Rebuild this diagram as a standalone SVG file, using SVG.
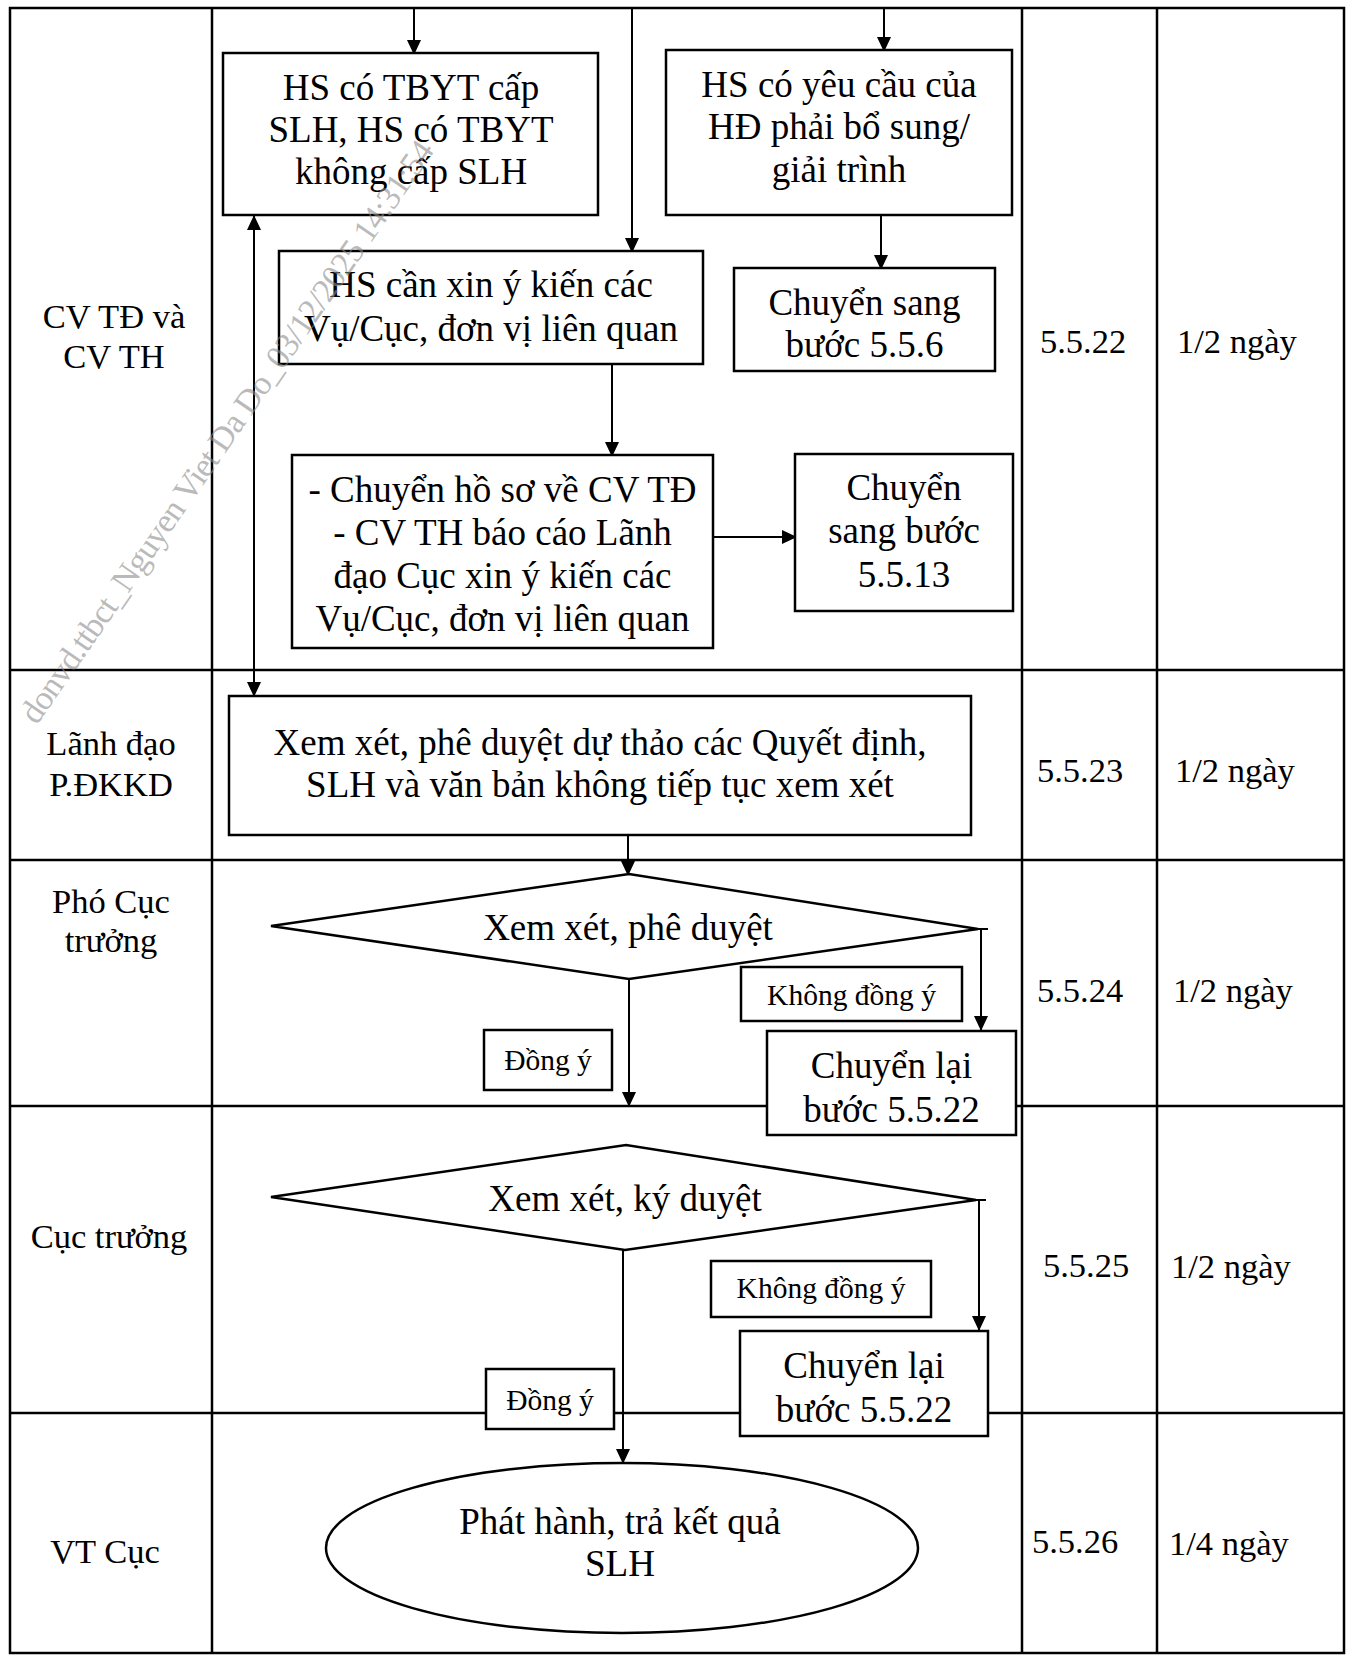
<svg xmlns="http://www.w3.org/2000/svg" width="1357" height="1660" viewBox="0 0 1357 1660">
<defs>
<marker id="ah" viewBox="0 0 15 14" refX="15" refY="7" markerWidth="15" markerHeight="14" orient="auto-start-reverse" markerUnits="userSpaceOnUse"><path d="M0,0 L15,7 L0,14 z" fill="#000"/></marker>
<style>
text{font-family:"Liberation Serif","Times New Roman",serif;fill:#000}
.f{font-size:37px;text-anchor:middle}
.l{font-size:29.5px;text-anchor:middle}
.t{font-size:34.5px}
.c{text-anchor:middle}
.box{fill:#fff;stroke:#000;stroke-width:2.5}
.grid{fill:none;stroke:#000;stroke-width:2.5}
.con{fill:none;stroke:#000;stroke-width:2}
.arr{marker-end:url(#ah)}
.wm{font-size:34px;fill:#8c8c8c;fill-opacity:0.6;text-anchor:middle}
</style>
</defs>
<rect width="1357" height="1660" fill="#fff"/>
<g id="table" class="grid">
<rect x="10" y="8" width="1334" height="1645"/>
<line x1="212" y1="8" x2="212" y2="1653"/>
<line x1="1022" y1="8" x2="1022" y2="1653"/>
<line x1="1157" y1="8" x2="1157" y2="1653"/>
<line x1="10" y1="670" x2="1344" y2="670"/>
<line x1="10" y1="860" x2="1344" y2="860"/>
<line x1="10" y1="1106" x2="1344" y2="1106"/>
<line x1="10" y1="1413" x2="1344" y2="1413"/>
</g>
<g id="lanes" class="t">
<text class="c" x="114" y="328">CV TĐ và</text>
<text class="c" x="114" y="368">CV TH</text>
<text class="c" x="111" y="755">Lãnh đạo</text>
<text class="c" x="111" y="796">P.ĐKKD</text>
<text class="c" x="111" y="913">Phó Cục</text>
<text class="c" x="111" y="952">trưởng</text>
<text class="c" x="109" y="1248">Cục trưởng</text>
<text class="c" x="105" y="1563">VT Cục</text>
</g>
<g id="steps" class="t">
<text class="c" x="1083" y="353">5.5.22</text>
<text class="c" x="1080" y="782">5.5.23</text>
<text class="c" x="1080" y="1002">5.5.24</text>
<text class="c" x="1086" y="1277">5.5.25</text>
<text class="c" x="1075" y="1553">5.5.26</text>
<text x="1177" y="353">1/2 ngày</text>
<text x="1175" y="782">1/2 ngày</text>
<text x="1173" y="1002">1/2 ngày</text>
<text x="1171" y="1278">1/2 ngày</text>
<text x="1169" y="1555">1/4 ngày</text>
</g>
<g id="connectors">
<path class="con arr" d="M414,8 V55"/>
<path class="con arr" d="M884,8 V52"/>
<path class="con arr" d="M632,8 V253"/>
<path class="con arr" d="M881,215 V270"/>
<path class="con arr" d="M612,364 V457"/>
<path class="con arr" d="M713,537 H797"/>
<path class="con arr" d="M254,215 V697" marker-start="url(#ah)"/>
<path class="con arr" d="M628,835 V876"/>
<path class="con" d="M978,929 H988"/>
<path class="con arr" d="M981,929 V1031"/>
<path class="con arr" d="M629,979 V1107"/>
<path class="con" d="M976,1200 H986"/>
<path class="con arr" d="M979,1200 V1331"/>
<path class="con arr" d="M623,1250 V1464"/>
</g>
<g id="n1"><rect class="box" x="223" y="53" width="375" height="162"/>
<text class="f" x="411" y="100">HS có TBYT cấp</text>
<text class="f" x="411" y="142">SLH, HS có TBYT</text>
<text class="f" x="411" y="184">không cấp SLH</text></g>
<g id="n2"><rect class="box" x="666" y="50" width="346" height="165"/>
<text class="f" x="839" y="97">HS có yêu cầu của</text>
<text class="f" x="839" y="139">HĐ phải bổ sung/</text>
<text class="f" x="839" y="182">giải trình</text></g>
<g id="n3"><rect class="box" x="279" y="251" width="424" height="113"/>
<text class="f" x="491" y="297">HS cần xin ý kiến các</text>
<text class="f" x="491" y="341">Vụ/Cục, đơn vị liên quan</text></g>
<g id="n4"><rect class="box" x="734" y="268" width="261" height="103"/>
<text class="f" x="864.5" y="315">Chuyển sang</text>
<text class="f" x="864.5" y="357">bước 5.5.6</text></g>
<g id="n5"><rect class="box" x="292" y="455" width="421" height="193"/>
<text class="f" x="502.5" y="502">- Chuyển hồ sơ về CV TĐ</text>
<text class="f" x="502.5" y="545">- CV TH báo cáo Lãnh</text>
<text class="f" x="502.5" y="588">đạo Cục xin ý kiến các</text>
<text class="f" x="502.5" y="631">Vụ/Cục, đơn vị liên quan</text></g>
<g id="n6"><rect class="box" x="795" y="454" width="218" height="157"/>
<text class="f" x="904" y="500">Chuyển</text>
<text class="f" x="904" y="543">sang bước</text>
<text class="f" x="904" y="587">5.5.13</text></g>
<g id="n7"><rect class="box" x="229" y="696" width="742" height="139"/>
<text class="f" x="600" y="755">Xem xét, phê duyệt dự thảo các Quyết định,</text>
<text class="f" x="600" y="797">SLH và văn bản không tiếp tục xem xét</text></g>
<g id="n8"><polygon class="box" points="271,926 629,874 978,929 629,979"/>
<text class="f" x="628" y="940">Xem xét, phê duyệt</text></g>
<g id="n9"><rect class="box" x="741" y="967" width="221" height="54"/>
<text class="l" x="851.5" y="1005">Không đồng ý</text></g>
<g id="n10"><rect class="box" x="767" y="1031" width="249" height="104"/>
<text class="f" x="891.5" y="1078">Chuyển lại</text>
<text class="f" x="891.5" y="1122">bước 5.5.22</text></g>
<g id="n11"><rect class="box" x="484" y="1030" width="128" height="60"/>
<text class="l" x="548" y="1070">Đồng ý</text></g>
<g id="n12"><polygon class="box" points="271,1197 626,1145 976,1200 625,1250"/>
<text class="f" x="625" y="1211">Xem xét, ký duyệt</text></g>
<g id="n13"><rect class="box" x="711" y="1261" width="220" height="56"/>
<text class="l" x="821" y="1298">Không đồng ý</text></g>
<g id="n14"><rect class="box" x="740" y="1331" width="248" height="105"/>
<text class="f" x="864" y="1378">Chuyển lại</text>
<text class="f" x="864" y="1422">bước 5.5.22</text></g>
<g id="n15"><rect class="box" x="486" y="1369" width="128" height="60"/>
<text class="l" x="550" y="1410">Đồng ý</text></g>
<g id="n16"><ellipse class="box" cx="622" cy="1548" rx="296" ry="85"/>
<text class="f" x="620" y="1534">Phát hành, trả kết quả</text>
<text class="f" x="620" y="1576">SLH</text></g>
<text class="wm" transform="translate(236,438) rotate(-55.3)" textLength="700" lengthAdjust="spacing">donvd.ttbct_Nguyen Viet Da Do_03/12/2025 14:31:54</text>
</svg>
